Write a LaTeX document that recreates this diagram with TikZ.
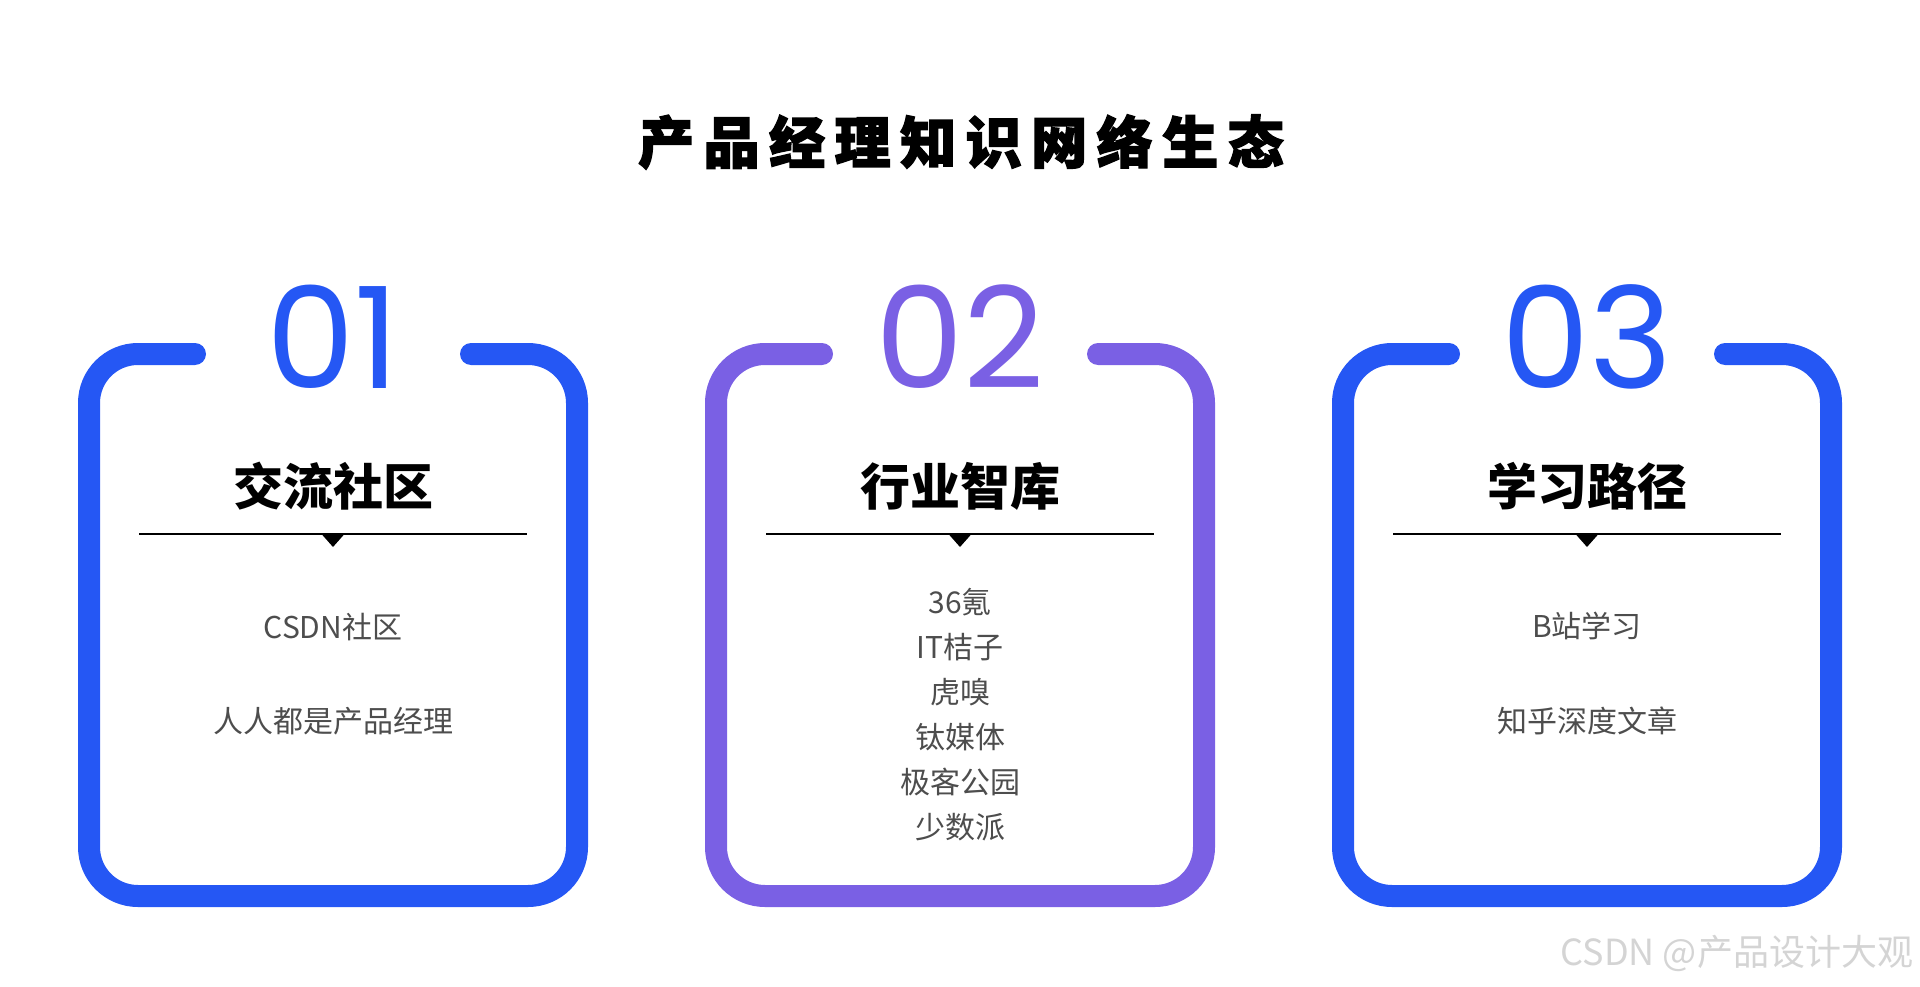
\documentclass[tikz,border=0pt]{standalone}
\usepackage{fontspec}
\usepackage{tikz}
\setmainfont{Noto Sans CJK SC}
\newfontfamily\numfont{Poppins}
\newfontfamily\titlefont{Noto Sans CJK SC}[BoldFeatures={FakeBold=2.5,LetterSpace=17}]
\definecolor{cardblue}{RGB}{37,87,244}
\definecolor{cardpurple}{RGB}{122,96,228}
\definecolor{itemgray}{RGB}{77,77,77}
\definecolor{markgray}{RGB}{212,212,212}

\begin{document}
\begin{tikzpicture}[x=1pt, y=-1pt, every node/.style={inner sep=0pt, outer sep=0pt},
        frame/.style={line width=22pt, line cap=round, rounded corners=49pt},
        numtext/.style={anchor=base, font=\numfont\fontsize{141}{141}\selectfont},
        headtext/.style={font=\bfseries\fontsize{50}{50}\selectfont},
        itemtext/.style={text=itemgray, align=center, font=\fontsize{30}{45}\selectfont},
        rule/.style={line width=2pt}]
        \useasboundingbox (0,0) rectangle (1920,987);

        \node (title) at (961,142) {\titlefont\bfseries\fontsize{56}{56}\selectfont 产品经理知识网络生态};

        % 01
        \draw[frame, cardblue] (195,354) -- (89,354) -- (89,896) -- (577,896) -- (577,354) -- (471,354);
        \node (num1) [numtext, text=cardblue] at (333,388) {01};
        \node (head1) [headtext] at (333,486) {交流社区};
        \draw[rule] (139,534) -- (527,534);
        \fill (321.5,534) -- (344.5,534) -- (333,547) -- cycle;
        \node (item1a) [itemtext] at (333,627) {CSDN社区};
        \node (item1b) [itemtext] at (333,721) {人人都是产品经理};

        % 02
        \draw[frame, cardpurple] (822,354) -- (716,354) -- (716,896) -- (1204,896) -- (1204,354) -- (1098,354);
        \node (num2) [numtext, text=cardpurple] at (960,388) {02};
        \node (head2) [headtext] at (960,486) {行业智库};
        \draw[rule] (766,534) -- (1154,534);
        \fill (948.5,534) -- (971.5,534) -- (960,547) -- cycle;
        \node (item2) [itemtext] at (960,715) {36氪\\IT桔子\\虎嗅\\钛媒体\\极客公园\\少数派};

        % 03
        \draw[frame, cardblue] (1449,354) -- (1343,354) -- (1343,896) -- (1831,896) -- (1831,354) -- (1725,354);
        \node (num3) [numtext, text=cardblue] at (1587,388) {03};
        \node (head3) [headtext] at (1587,486) {学习路径};
        \draw[rule] (1393,534) -- (1781,534);
        \fill (1575.5,534) -- (1598.5,534) -- (1587,547) -- cycle;
        \node (item3a) [itemtext] at (1587,626) {B站学习};
        \node (item3b) [itemtext] at (1587,721) {知乎深度文章};

        \node (mark) [anchor=east, text=markgray, font=\fontsize{36}{36}\selectfont] at (1913,953) {CSDN @产品设计大观};
    \end{tikzpicture}
\end{document}
